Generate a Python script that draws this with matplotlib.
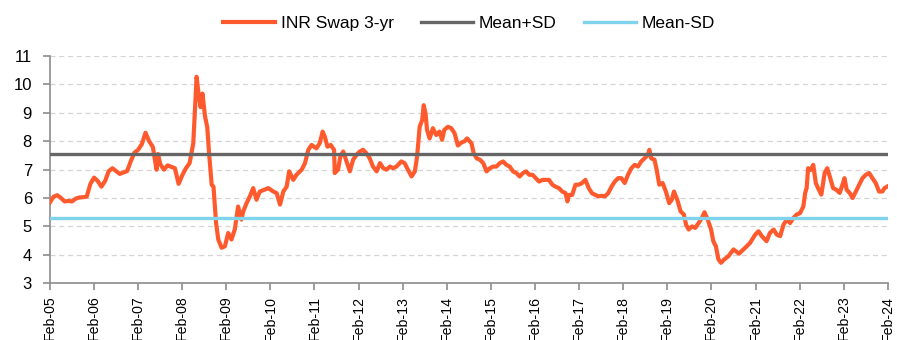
import numpy as np
import pandas as pd
import matplotlib
matplotlib.use("Agg")
import matplotlib.pyplot as plt

plt.rcParams['font.family'] = ['Liberation Sans', 'DejaVu Sans']

# months elapsed since Feb-2005, and the 3-yr INR swap rate (%)
months = [0, 1, 2, 3, 4, 5, 6, 7, 8, 9, 10, 11, 12, 13, 14, 15, 16, 17, 18, 19,
          20, 21, 22, 23, 24, 25, 26, 27, 28, 29, 29.4, 30, 31, 32, 33, 34, 35, 36, 37, 38,
          39, 39.9, 40.5, 41, 41.5, 42.2, 42.8, 43.3, 44, 44.5, 45.2, 45.8, 46.7, 47.6, 48.5, 49.4,
          50.3, 51.2, 52.1, 52.6, 53.5, 54.4, 55.3, 56.2, 57.1, 58.5, 59.4, 60.8, 61.7, 62.6,
          63.5, 64.4, 65.1, 66.2, 67.1, 68.5, 69.4, 70.3, 71.2, 72.5, 73.4, 74.2, 74.8, 75.5,
          76.4, 77.3, 77.5, 78.4, 79, 79.8, 80.7, 81.6, 82.5, 83.4, 84.3, 85.2, 86.1, 87,
          87.9, 88.9, 89.8, 90.7, 91.6, 92.5, 93.4, 94.3, 95.6, 96.5, 97.4, 98.4, 99.3, 99.9,
          100.6, 101.3, 101.7, 102.2, 102.6, 103.3, 104.2, 105.1, 106, 106.7, 107.3, 108.3,
          109.2, 110.1, 111, 111.9, 112.8, 113.5, 114.7, 115.3, 116.1, 117, 117.9, 118.8,
          119.7, 120.6, 121.5, 122.4, 123.3, 124.2, 125.1, 126, 126.9, 127.8, 128.7, 129.6,
          130.4, 131.3, 132.2, 133.1, 134, 134.9, 135.8, 136.7, 137.6, 138.5, 139.4, 140.3,
          140.8, 141.2, 142.1, 143, 143.9, 144.8, 145.7, 146.6, 147.5, 148.4, 149.3, 150.2,
          151, 151.9, 152.8, 153.7, 154.6, 155.5, 156.4, 157.3, 158.2, 159.1, 160, 160.9,
          161.8, 162.7, 163.1, 163.6, 164.5, 165.1, 165.8, 166.7, 167.6, 168.5, 169.2, 169.8,
          170.7, 171.6, 172.5, 173.1, 173.8, 174.7, 175.6, 176.5, 177.4, 178.1, 179, 179.9,
          180.5, 181.2, 181.9, 182.6, 183.5, 184.6, 186, 187.5, 188.2, 189.2, 190.5, 191.9,
          192.8, 193.7, 195, 195.9, 196.9, 197.8, 198.7, 199.6, 200.5, 201.4, 202.3, 203.2,
          204.1, 205, 205.5, 205.9, 206.3, 207, 207.7, 208.4, 209, 209.9, 210.8, 211.5,
          212.2, 213.1, 214, 214.9, 215.8, 216.2, 216.8, 217.6, 218.4, 219.3, 220.2, 221.1,
          222, 222.9, 223.8, 224.7, 225.6, 226.5, 227.1, 227.9]
swap_3y = [5.85, 6.05, 6.1, 6.0, 5.88, 5.9, 5.88, 5.98, 6.02, 6.03, 6.05, 6.5, 6.72, 6.6, 6.4, 6.6, 6.95, 7.05, 6.95, 6.85,
           6.9, 6.95, 7.3, 7.6, 7.7, 7.9, 8.3, 8.0, 7.8, 7.0, 7.55, 7.2, 7.0, 7.15, 7.1, 7.05, 6.5, 6.8, 7.05, 7.23,
           7.93, 10.27, 9.6, 9.2, 9.68, 8.87, 8.5, 7.58, 6.47, 6.4, 5.12, 4.54, 4.25, 4.3, 4.77, 4.54,
           4.9, 5.7, 5.24, 5.53, 5.82, 6.06, 6.35, 5.94, 6.23, 6.3, 6.35, 6.23, 6.17, 5.77,
           6.23, 6.4, 6.94, 6.64, 6.82, 7.0, 7.23, 7.7, 7.87, 7.75, 7.93, 8.34, 8.16, 7.81,
           7.87, 7.7, 6.88, 7.0, 7.46, 7.64, 7.29, 6.94, 7.35, 7.52, 7.64, 7.7, 7.58, 7.4,
           7.11, 6.94, 7.23, 7.05, 7.0, 7.11, 7.05, 7.11, 7.29, 7.23, 7.0, 6.76, 6.94, 7.46,
           8.51, 8.75, 9.27, 8.98, 8.4, 8.1, 8.46, 8.22, 8.34, 8.05, 8.4, 8.51,
           8.46, 8.28, 7.85, 7.95, 8.0, 8.1, 7.93, 7.58, 7.4, 7.35, 7.23, 6.94,
           7.05, 7.11, 7.11, 7.23, 7.29, 7.17, 7.11, 6.94, 6.88, 6.76, 6.88, 6.94,
           6.82, 6.82, 6.7, 6.58, 6.64, 6.64, 6.64, 6.47, 6.4, 6.35, 6.23, 6.17,
           5.88, 6.11, 6.11, 6.47, 6.47, 6.53, 6.64, 6.35, 6.17, 6.11, 6.06, 6.08,
           6.06, 6.17, 6.4, 6.58, 6.7, 6.7, 6.53, 6.82, 7.05, 7.17, 7.11, 7.29,
           7.4, 7.52, 7.7, 7.4, 7.35, 6.99, 6.47, 6.53, 6.23, 5.82, 5.94, 6.23,
           5.94, 5.53, 5.42, 5.06, 4.89, 5.0, 4.95, 5.12, 5.3, 5.5, 5.24, 4.89,
           4.48, 4.3, 3.84, 3.72, 3.84, 3.95, 4.19, 4.04, 4.13, 4.25, 4.42, 4.71,
           4.83, 4.66, 4.48, 4.77, 4.89, 4.71, 4.66, 5.06, 5.24, 5.12, 5.3, 5.42,
           5.47, 5.7, 6.18, 6.35, 7.05, 6.99, 7.17, 6.53, 6.35, 6.12, 6.88, 7.05,
           6.76, 6.35, 6.29, 6.18, 6.53, 6.7, 6.29, 6.18, 6.0, 6.23, 6.47, 6.7,
           6.82, 6.88, 6.7, 6.53, 6.23, 6.23, 6.35, 6.41]

mean_plus_sd = 7.56
mean_minus_sd = 5.31

start = pd.Timestamp('2005-02-01')
dates = [start + pd.Timedelta(days=m * 365.25 / 12) for m in months]
end = pd.Timestamp('2024-02-01')

fig = plt.figure(figsize=(8.97, 3.40), dpi=100)
ax = fig.add_axes([0.0557, 0.167, 0.934, 0.668])

ax.plot(dates, swap_3y, color='#FF5A2D', lw=3.0, label='INR Swap 3-yr', zorder=3)
ax.plot([start, end], [mean_plus_sd] * 2, color='#666666', lw=2.4, label='Mean+SD', zorder=4)
ax.plot([start, end], [mean_minus_sd] * 2, color='#7FD3EA', lw=2.4, label='Mean-SD', zorder=4)

ax.set_xlim(start, end)
ax.set_ylim(3, 11)
ax.set_yticks(range(3, 12))
ax.yaxis.grid(True, color='#d4d4d4', lw=0.9, linestyle=(0, (4, 3)))
ax.set_axisbelow(True)

ticks = pd.date_range('2005-02-01', '2024-02-01', freq='12MS')
ax.set_xticks(ticks)
ax.set_xticklabels([t.strftime('%b-%y') for t in ticks], rotation=90, fontsize=10.2)

for s in ['top', 'right']:
    ax.spines[s].set_visible(False)
for s in ['left', 'bottom']:
    ax.spines[s].set_color('#8c8c8c')
    ax.spines[s].set_linewidth(1.2)
ax.tick_params(axis='both', colors='#8c8c8c', length=5, width=1.2, labelcolor='black')
ax.tick_params(axis='y', labelsize=12, pad=8)
ax.tick_params(axis='x', pad=4)

fig.legend(loc='upper center', bbox_to_anchor=(0.523, 1.0), ncol=3, frameon=False,
           fontsize=12.5, handlelength=3.0, handletextpad=0.3, columnspacing=1.6)

fig.savefig('out.png', dpi=100)
